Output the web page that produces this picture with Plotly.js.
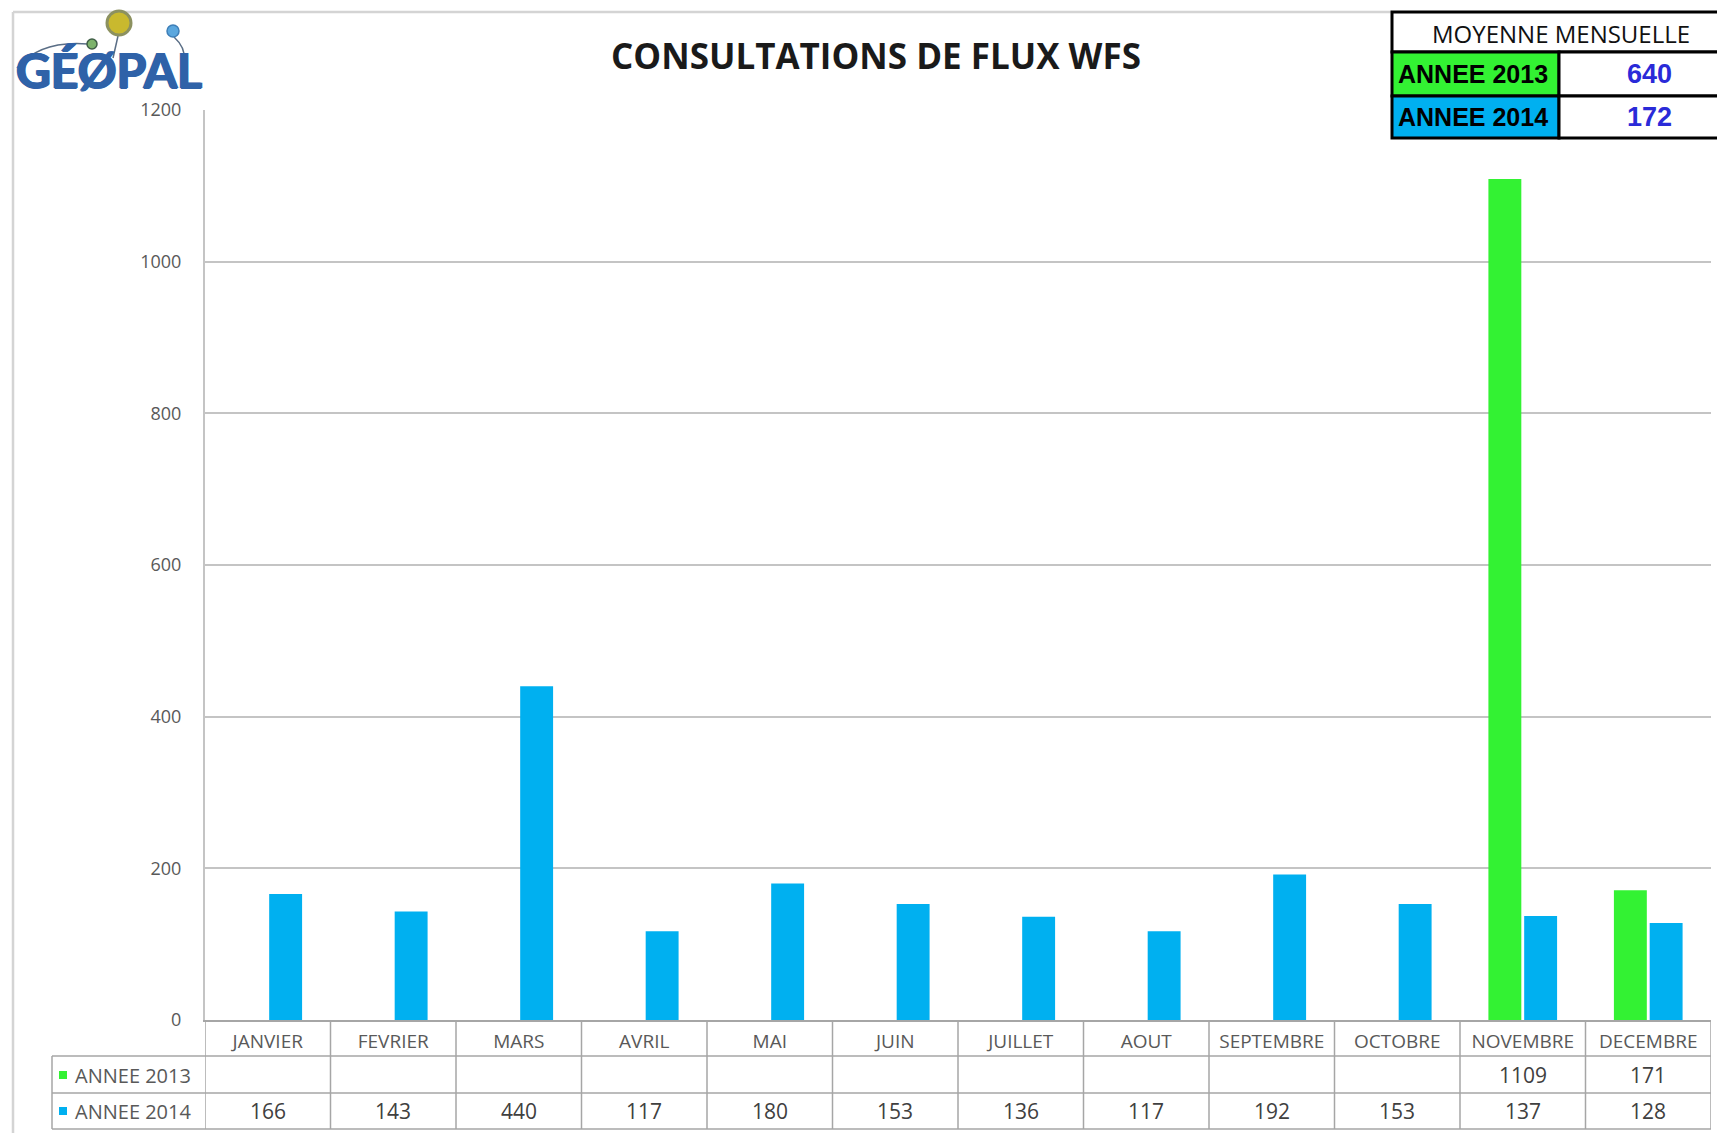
<!DOCTYPE html>
<html>
<head>
<meta charset="utf-8">
<script src="https://cdn.plot.ly/plotly-3.0.1.min.js"></script>
<style>html,body{margin:0;padding:0;background:#fff;}#chart{width:1717px;height:1133px;}</style>
</head>
<body>
<div id="chart"></div>
<script>
// ---- data ----
const months = ["JANVIER","FEVRIER","MARS","AVRIL","MAI","JUIN","JUILLET","AOUT","SEPTEMBRE","OCTOBRE","NOVEMBRE","DECEMBRE"];
const series2013 = [null,null,null,null,null,null,null,null,null,null,1109,171];
const series2014 = [166,143,440,117,180,153,136,117,192,153,137,128];
const seriesNames = ["ANNEE 2013","ANNEE 2014"];
const monthlyAverage = [640,172];
const yTicks = [0,200,400,600,800,1000,1200];
const chartTitle = "CONSULTATIONS DE FLUX WFS";
const averageTitle = "MOYENNE MENSUELLE";

// ---- layout helpers ----
const W = 1717, H = 1133;
const L = 205, R = 1711, T = 110, B = 1020;
const px = x => (x - L) / (R - L);
const py = y => (B - y) / (B - T);
const COL13 = "#33F233", COL14 = "#00B0F0";
const GRIDC = "#A6A6A6";

const traces = [
  {type:"bar", name:seriesNames[0], x:months, y:series2013, marker:{color:COL13}},
  {type:"bar", name:seriesNames[1], x:months, y:series2014, marker:{color:COL14}}
];

const shapes = [];
const annotations = [];
function line(x0,y0,x1,y1,color,width){
  shapes.push({type:"line",xref:"paper",yref:"paper",x0:px(x0),y0:py(y0),x1:px(x1),y1:py(y1),line:{color:color,width:width}});
}
function rect(x0,y0,x1,y1,fill,lc,lw){
  shapes.push({type:"rect",xref:"paper",yref:"paper",x0:px(x0),y0:py(y0),x1:px(x1),y1:py(y1),fillcolor:fill,line:{color:lc,width:lw}});
}
function circle(cx,cy,r,fill,lc,lw){
  shapes.push({type:"circle",xref:"paper",yref:"paper",x0:px(cx-r),x1:px(cx+r),y0:py(cy+r),y1:py(cy-r),fillcolor:fill,line:{color:lc,width:lw}});
}
function path(pts,color,width){
  let d = pts.map(p => p[0] + p.slice(1).map((v,i)=> i%2===0 ? px(v) : py(v)).join(",")).join(" ");
  shapes.push({type:"path",xref:"paper",yref:"paper",path:d,line:{color:color,width:width}});
}

// outer chart border
line(13,12,1392,12,"#D4D4D4",2.5);
line(13,12,13,1133,"#D4D4D4",2.5);

// bottom data table
[1056,1093,1129].forEach(y => line(52,y,R,y,GRIDC,1.5));
line(52,1056,52,1129,GRIDC,1.5);
for (let i = 0; i <= months.length; i++) {
  shapes.push({type:"line",xref:"x",yref:"paper",x0:i-0.5,x1:i-0.5,y0:py(1020),y1:py(1129),line:{color:GRIDC,width:1.5}});
}
rect(59,1071,67,1079,COL13,COL13,0);
rect(59,1107,67,1115,COL14,COL14,0);
const rowY = [1075,1111];
seriesNames.forEach((n,k) => {
  annotations.push({xref:"paper",yref:"paper",x:px(73),y:py(rowY[k]),xanchor:"left",yanchor:"middle",text:n,showarrow:false,font:{family:"Open Sans",size:20,color:"#595959"}});
});
[series2013,series2014].forEach((s,k) => {
  s.forEach((v,i) => {
    if (v !== null) annotations.push({xref:"x",yref:"paper",x:months[i],y:py(rowY[k]),xanchor:"center",yanchor:"middle",text:String(v),showarrow:false,font:{family:"Open Sans",size:21,color:"#404040"}});
  });
});

// top-right average table
const TX0 = 1392, TX1 = 1559, TX2 = 1760;
rect(TX0,12,TX2,52,"#FFFFFF","#000000",3);
rect(TX0,52,TX1,96,COL13,"#000000",3);
rect(TX0,96,TX1,138,COL14,"#000000",3);
rect(TX1,52,TX2,96,"#FFFFFF","#000000",3);
rect(TX1,96,TX2,138,"#FFFFFF","#000000",3);
annotations.push({xref:"paper",yref:"paper",x:px(1561),y:py(33),xanchor:"center",yanchor:"middle",text:averageTitle,showarrow:false,font:{family:"Open Sans",size:24,color:"#111111"}});
[74,117].forEach((y,k) => {
  annotations.push({xref:"paper",yref:"paper",x:px(1396),y:py(y),xanchor:"left",yanchor:"middle",text:"<b>"+seriesNames[k]+"</b>",showarrow:false,font:{family:"Liberation Sans",size:25,color:"#000000"}});
  annotations.push({xref:"paper",yref:"paper",x:px(1649),y:py(y),xanchor:"center",yanchor:"middle",text:"<b>"+monthlyAverage[k]+"</b>",showarrow:false,font:{family:"Liberation Sans",size:27,color:"#2A2AD8"}});
});

// logo
path([["M",17,68],["Q",40,40,88,44]],"#5A6E86",1.5);
path([["M",118,36],["L",113,58]],"#5A6E86",1.5);
path([["M",174,37],["Q",186,48,184,60]],"#5A6E86",1.5);
circle(119,23,12,"#C9B92E","#8C9160",3);
circle(92,44,5,"#7DB36B","#3F5E46",1.5);
circle(173,31,6,"#5BA7DE","#3E7FB8",1.5);
annotations.push({xref:"paper",yref:"paper",x:px(14),y:py(70),xanchor:"left",yanchor:"middle",text:"<b>GÉØPAL</b>",showarrow:false,
  font:{family:"Lato",size:48,color:"#2F62A8",shadow:"1px 0px 0px #2F62A8, -1px 0px 0px #2F62A8, 0px 1px 0px #2F62A8"}});

const layout = {
  width:W, height:H, autosize:false,
  paper_bgcolor:"#FFFFFF", plot_bgcolor:"#FFFFFF",
  margin:{l:L, r:W-R, t:T, b:H-B, pad:0},
  showlegend:false,
  barmode:"group", bargap:0.43, bargroupgap:0.08,
  title:{text:"<b>"+chartTitle+"</b>", x:876/W, xref:"container", xanchor:"center", y:1-57/H, yref:"container", yanchor:"middle",
         font:{family:"Open Sans", size:35, color:"#1A1A1A"}},
  xaxis:{type:"category", range:[-0.5,11.5], showgrid:false, showline:true, linecolor:GRIDC, linewidth:1.5,
         ticks:"", tickfont:{family:"Open Sans", size:19, color:"#595959"}, ticklabelstandoff:4, fixedrange:true},
  yaxis:{range:[0,1200], tickvals:yTicks, ticktext:yTicks.map(String), showgrid:true, gridcolor:"#C4C4C4", gridwidth:2,
         zeroline:false, showline:true, linecolor:"#C4C4C4", linewidth:2, ticks:"",
         tickfont:{family:"Open Sans", size:18, color:"#595959"}, ticklabelstandoff:18, fixedrange:true},
  shapes:shapes, annotations:annotations, hovermode:false
};
Plotly.newPlot("chart", traces, layout, {displayModeBar:false, staticPlot:true});
</script>
</body>
</html>
